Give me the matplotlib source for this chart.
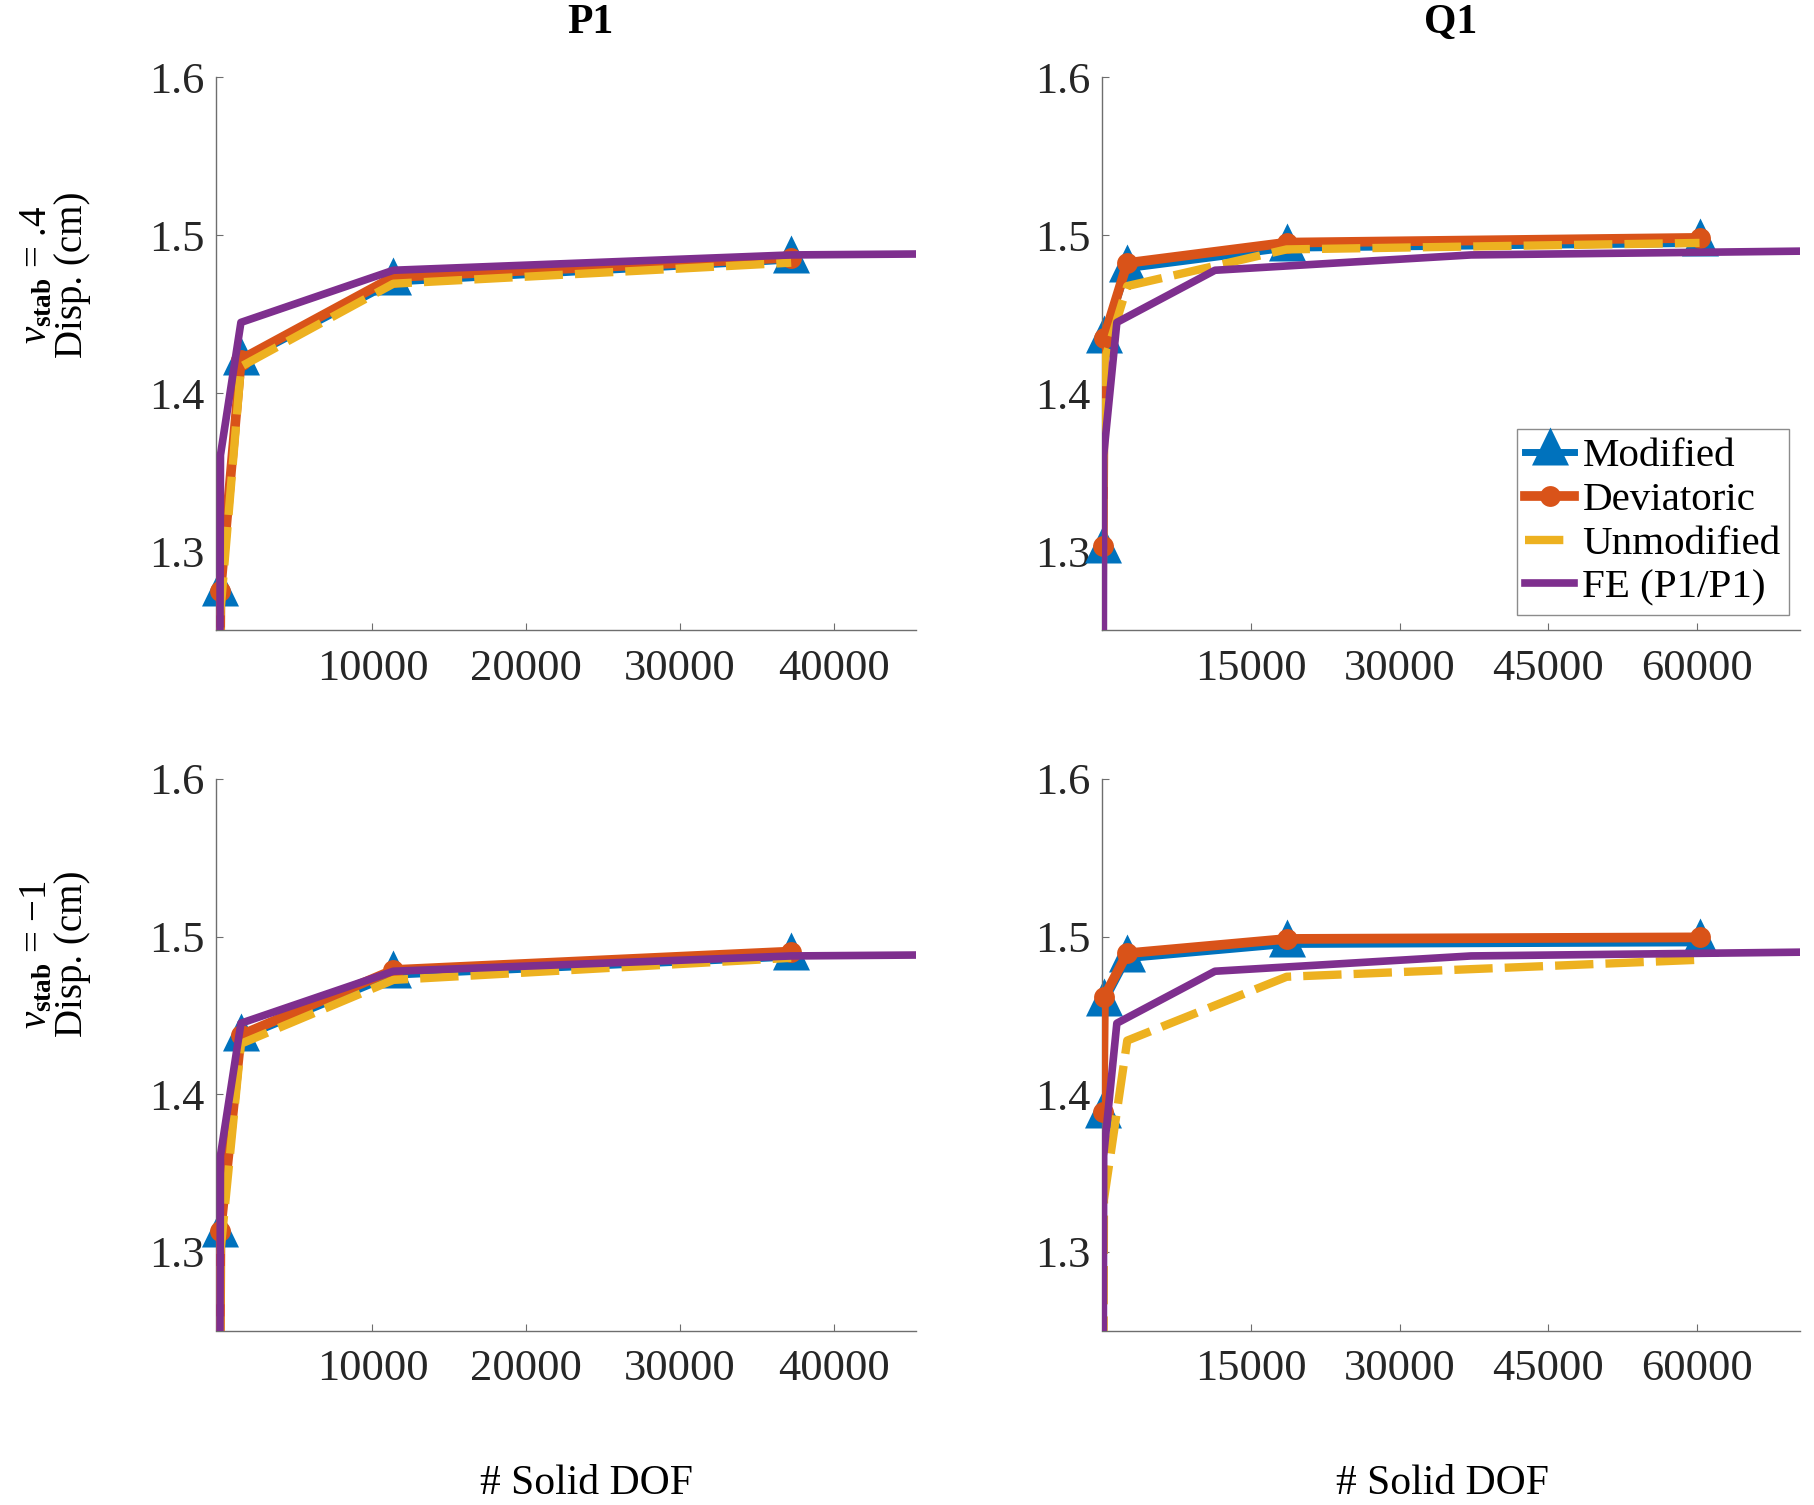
import numpy as np
import matplotlib
matplotlib.use("Agg")
import matplotlib.pyplot as plt
from matplotlib.path import Path
from matplotlib.lines import Line2D

# number of solid DOF for each mesh
dof_p1 = [20, 120, 1450, 11360, 37220]
dof_q1 = [30, 150, 2500, 18600, 60300]
dof_fe = [20, 120, 1450, 11360, 37220, 70450]

# tip displacement (cm), nu_stab = .4
p1_mod_a = [1.12, 1.274, 1.420, 1.4705, 1.4845]
p1_dev_a = [1.13, 1.275, 1.4215, 1.4737, 1.486]
p1_unm_a = [1.10, 1.262, 1.417, 1.4695, 1.4828]
q1_mod_a = [1.301, 1.434, 1.479, 1.492, 1.495]
q1_dev_a = [1.3035, 1.435, 1.4826, 1.4955, 1.4985]
q1_unm_a = [1.277, 1.420, 1.468, 1.4912, 1.4953]

# nu_stab = -1
p1_mod_b = [1.10, 1.311, 1.4355, 1.4755, 1.487]
p1_dev_b = [1.12, 1.313, 1.4375, 1.4788, 1.4905]
p1_unm_b = [1.05, 1.300, 1.432, 1.4725, 1.4865]
q1_mod_b = [1.3865, 1.458, 1.486, 1.495, 1.496]
q1_dev_b = [1.3885, 1.4615, 1.4894, 1.4985, 1.4995]
q1_unm_b = [1.05, 1.333, 1.434, 1.4745, 1.4853]

# reference FE (P1/P1)
fe_disp = [1.00, 1.361, 1.445, 1.478, 1.4877, 1.4901]

series_names = ['Modified', 'Deviatoric', 'Unmodified', 'FE (P1/P1)']
col_titles = ['P1', 'Q1']
row_labels = ['$\\nu_{\\mathbf{stab}}$ = .4\nDisp. (cm)',
              '$\\nu_{\\mathbf{stab}}$ = \u22121\nDisp. (cm)']
xticks_p1 = [10000, 20000, 30000, 40000]
xticks_q1 = [15000, 30000, 45000, 60000]
yticks = [1.3, 1.4, 1.5, 1.6]
ylim = (1.25, 1.6)

blue, orange, yellow, purple = '#0072BD', '#D95319', '#EDB120', '#7E2F8E'

plt.rcParams['font.family'] = ['Liberation Serif', 'DejaVu Serif']
plt.rcParams['mathtext.fontset'] = 'custom'
plt.rcParams['mathtext.rm'] = 'Liberation Serif'
plt.rcParams['mathtext.it'] = 'Liberation Serif:italic'
plt.rcParams['mathtext.bf'] = 'Liberation Serif:bold'

# triangle marker with the data point at its centroid (like MATLAB)
tri = Path([(0, 25), (-18.5, -13), (18.5, -13), (0, 25)],
           [Path.MOVETO, Path.LINETO, Path.LINETO, Path.CLOSEPOLY])

W, H = 1814, 1505
fig = plt.figure(figsize=(W / 100, H / 100), dpi=100)


def box(l, t, r, b):
    return [l / W, 1 - b / H, (r - l) / W, (b - t) / H]


def series(ax, x, y, color, lw, z, ls='-', marker=None, ms=0):
    ax.plot(x, y, color=color, lw=lw, linestyle=ls, zorder=z)
    if marker is not None:
        # markers are not clipped at the axes edge (MATLAB style)
        x, y = np.asarray(x), np.asarray(y)
        keep = (y >= ylim[0]) & (y <= ylim[1])
        ax.plot(x[keep], y[keep], linestyle='none', marker=marker, ms=ms,
                mew=0, color=color, zorder=z + 0.5, clip_on=False)


panels = [
    (box(216, 77.5, 916, 630.5), dof_p1, p1_mod_a, p1_dev_a, p1_unm_a, (-170, 45335), xticks_p1),
    (box(1101.5, 77.5, 1800, 630.5), dof_q1, q1_mod_a, q1_dev_a, q1_unm_a, (-100, 70450), xticks_q1),
    (box(216, 779, 916, 1330.5), dof_p1, p1_mod_b, p1_dev_b, p1_unm_b, (-170, 45335), xticks_p1),
    (box(1101.5, 779, 1800, 1330.5), dof_q1, q1_mod_b, q1_dev_b, q1_unm_b, (-100, 70450), xticks_q1),
]

dash = (0, (4.6, 1.45))
axes = []
for pos, x, mod, dev, unm, xl, xt in panels:
    ax = fig.add_axes(pos)
    series(ax, x, mod, blue, 5, 2, marker=tri, ms=36)
    series(ax, x, dev, orange, 7, 3, marker='o', ms=15)
    series(ax, x, unm, yellow, 6, 4, ls=dash)
    series(ax, dof_fe, fe_disp, purple, 5.5, 5)
    ax.set_xlim(xl)
    ax.set_ylim(ylim)
    ax.set_xticks(xt)
    ax.set_xticklabels([str(v) for v in xt])
    ax.set_yticks(yticks)
    ax.set_yticklabels(['1.3', '1.4', '1.5', '1.6'])
    for s in ['top', 'right']:
        ax.spines[s].set_visible(False)
    for s in ['left', 'bottom']:
        ax.spines[s].set_color('#6e6e6e')
        ax.spines[s].set_linewidth(1.0)
    ax.tick_params(direction='in', length=5, width=0.8, color='#6e6e6e',
                   labelcolor='#262626', labelsize=32)
    ax.tick_params(axis='y', pad=8)
    ax.tick_params(axis='x', pad=13)
    axes.append(ax)

# legend in the top-right panel
handles = [
    Line2D([], [], color=blue, lw=5, marker=tri, ms=36, mew=0),
    Line2D([], [], color=orange, lw=7, marker='o', ms=15, mew=0),
    Line2D([], [], color=yellow, lw=6, linestyle=dash),
    Line2D([], [], color=purple, lw=5.5),
]
leg = axes[1].legend(handles, series_names, loc='lower right',
                     bbox_to_anchor=(0.984, 0.028), borderaxespad=0,
                     fontsize=29.5, handlelength=1.2, handletextpad=0.2,
                     borderpad=0.2, labelspacing=0.15, fancybox=False,
                     framealpha=1, edgecolor='#8c8c8c')
leg.get_frame().set_linewidth(1.0)
leg.set_zorder(10)

# column titles, row labels, x labels
fig.text(590 / W, 1 - 23 / H, col_titles[0], ha='center', va='center',
         fontsize=30, fontweight='bold')
fig.text(1451 / W, 1 - 23 / H, col_titles[1], ha='center', va='center',
         fontsize=30, fontweight='bold')
fig.text(55 / W, 1 - 275 / H, row_labels[0], ha='center', va='center',
         rotation=90, fontsize=28, linespacing=0.95, multialignment='center')
fig.text(55 / W, 1 - 954 / H, row_labels[1], ha='center', va='center',
         rotation=90, fontsize=28, linespacing=0.95, multialignment='center')
fig.text(586 / W, 1 - 1484 / H, '# Solid DOF', ha='center', va='center', fontsize=30)
fig.text(1442 / W, 1 - 1484 / H, '# Solid DOF', ha='center', va='center', fontsize=30)

fig.savefig('out.png', dpi=100)
